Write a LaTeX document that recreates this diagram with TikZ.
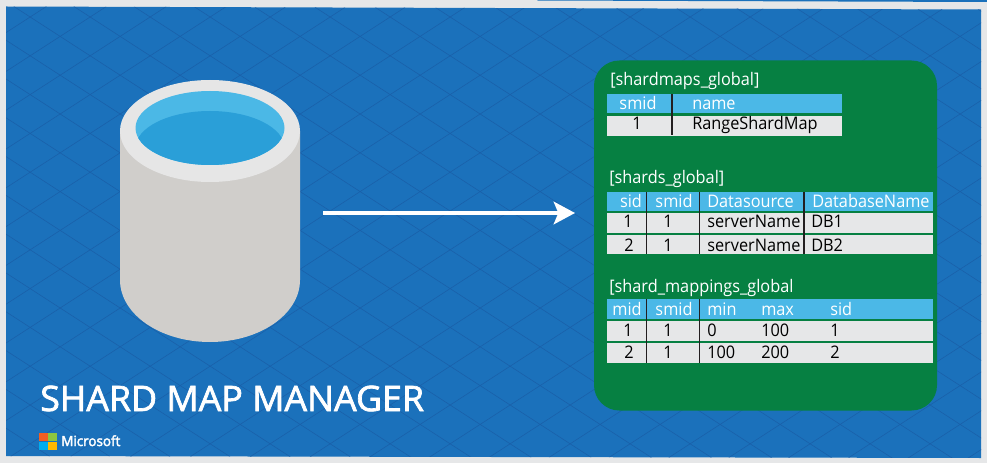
\documentclass[tikz,border=0pt]{standalone}
\usepackage{fontspec}
\setmainfont[FakeStretch=0.94]{Open Sans}
\newfontfamily\titlefont[FakeStretch=1.02,FakeBold=2]{Open Sans}
\newfontfamily\logofont[FakeStretch=0.96,FakeBold=2.5]{Open Sans}
\usetikzlibrary{arrows.meta}
\definecolor{pagegrey}{HTML}{E6E7E8}
\definecolor{bgblue}{HTML}{1B71BB}
\definecolor{gridblue}{HTML}{1A5FA8}
\definecolor{panelgreen}{HTML}{068042}
\definecolor{headblue}{HTML}{4BB8E7}
\definecolor{cellgrey}{HTML}{E6E7E8}
\definecolor{sepdark}{HTML}{231F20}
\definecolor{cylbody}{HTML}{D0CECB}
\definecolor{cylrim}{HTML}{E6E6E6}
\definecolor{waterlight}{HTML}{4BB8E6}
\definecolor{waterdark}{HTML}{2A9FD8}
\definecolor{logoorange}{HTML}{F25F22}
\definecolor{logogreen}{HTML}{8CC63F}
\definecolor{logoblue}{HTML}{00ADEF}
\definecolor{logoyellow}{HTML}{FFB900}
\tikzset{
  x=0.75pt,y=-0.75pt,
  txt/.style={inner sep=0pt,anchor=base west,font=\fontsize{13}{13}\selectfont},
  htxt/.style={txt,text=white},
  ctxt/.style={txt,text=black},
  htxtc/.style={htxt,anchor=base},
  ctxtc/.style={ctxt,anchor=base},
  sepline/.style={draw=sepdark,line width=1.25pt},
  gridline/.style={draw=gridblue,line width=0.4pt},
}
\begin{document}
\begin{tikzpicture}
\useasboundingbox (0,0) rectangle (987,463);
\fill[pagegrey] (0,0) rectangle (987,463);
\fill[bgblue] (537,0) -- (987,0) -- (987,2) -- (537,0.5) -- cycle;
% background
\begin{scope}
\clip (6,6.5) -- (981,9.5) -- (981,458) -- (6,456) -- cycle;
\fill[bgblue] (0,0) rectangle (987,463);
\foreach \k in {-20,...,12}{
  \draw[gridline] (0,{-2.5+38.8*\k}) -- (987,{-2.5+38.8*\k+987*0.6467});
}
\foreach \k in {0,...,30}{
  \draw[gridline] (0,{36.5+38.8*\k}) -- (987,{36.5+38.8*\k-987*0.6467});
}
\end{scope}
% cylinder
\fill[cylbody] (120,131) -- (120,280) arc[start angle=180,end angle=0,x radius=90,y radius=62] -- (300,131) -- cycle;
\fill[cylrim] (210,131) ellipse[x radius=90,y radius=51];
\fill[waterlight] (210,128) ellipse[x radius=74.5,y radius=37];
\begin{scope}
\clip (210,128) ellipse[x radius=74.5,y radius=37];
\fill[waterdark] (210,148) ellipse[x radius=74.5,y radius=37];
\end{scope}
% arrow
\coordinate (arrowstart) at (323,213);
\coordinate (arrowend) at (575,213);
\draw[white,line width=2.5pt,-{Stealth[length=16pt,width=17pt,inset=3.5pt]}] (arrowstart) -- (arrowend);
% panel
\fill[panelgreen,rounded corners=19pt] (594,60.5) rectangle (937,410.5);
% table 1
\node[htxt] (t1title) at (610,86) {[shardmaps\_global]};
\fill[headblue] (607,94) rectangle (842,113);
\fill[cellgrey] (607,116) rectangle (842,136);
\draw[sepline] (672,94) -- (672,135);
\node[htxtc] (t1h1) at (638,110) {smid};
\node[htxt] (t1h2) at (692,110) {name};
\node[ctxtc] (t1c1) at (637,130) {1};
\node[ctxt] (t1c2) at (692,130) {RangeShardMap};
% table 2
\node[htxt] (t2title) at (609,184) {[shards\_global]};
\fill[headblue] (607,192) rectangle (933,211);
\fill[cellgrey] (607,213) rectangle (933,233);
\fill[cellgrey] (607,235) rectangle (933,254);
\draw[sepline] (646.5,192) -- (646.5,254);
\draw[sepline] (699.5,192) -- (699.5,254);
\draw[sepline] (804,192) -- (804,254);
\node[htxtc] (t2h1) at (631,207.5) {sid};
\node[htxtc] (t2h2) at (674,207.5) {smid};
\node[htxt] (t2h3) at (707,207.5) {Datasource};
\node[htxt] (t2h4) at (812,207.5) {DatabaseName};
\node[ctxtc] (t2a1) at (628,228) {1};
\node[ctxtc] (t2a2) at (668,228) {1};
\node[ctxt] (t2a3) at (707,228) {serverName};
\node[ctxt] (t2a4) at (811,228) {DB1};
\node[ctxtc] (t2b1) at (629,251) {2};
\node[ctxtc] (t2b2) at (668,251) {1};
\node[ctxt] (t2b3) at (707,251) {serverName};
\node[ctxt] (t2b4) at (811,251) {DB2};
% table 3
\node[htxt] (t3title) at (609,292.5) {[shard\_mappings\_global};
\fill[headblue] (607,299) rectangle (933,319);
\fill[cellgrey] (607,321) rectangle (933,341);
\fill[cellgrey] (607,343) rectangle (933,363);
\draw[sepline] (646.5,299) -- (646.5,363);
\draw[sepline] (699.5,299) -- (699.5,363);
\node[htxtc] (t3h1) at (627,315) {mid};
\node[htxtc] (t3h2) at (674,315) {smid};
\node[htxt] (t3h3) at (707,315) {min};
\node[htxt] (t3h4) at (761,315) {max};
\node[htxt] (t3h5) at (830,315) {sid};
\node[ctxtc] (t3a1) at (628,336) {1};
\node[ctxtc] (t3a2) at (668,336) {1};
\node[ctxt] (t3a3) at (707,336) {0};
\node[ctxt] (t3a4) at (761,336) {100};
\node[ctxt] (t3a5) at (830,336) {1};
\node[ctxtc] (t3b1) at (629,358.5) {2};
\node[ctxtc] (t3b2) at (668,358.5) {1};
\node[ctxt] (t3b3) at (707,358.5) {100};
\node[ctxt] (t3b4) at (761,358.5) {200};
\node[ctxt] (t3b5) at (830,358.5) {2};
% title
\node[inner sep=0pt,anchor=base west,text=white,font=\titlefont\fontsize{26.3}{27}\selectfont] (maintitle) at (40,411) {SHARD MAP MANAGER};
% logo
\fill[logoorange] (39,433) rectangle (47.6,441.2);
\fill[logogreen] (48.4,433) rectangle (57,441.2);
\fill[logoblue] (39,442) rectangle (47.6,450);
\fill[logoyellow] (48.4,442) rectangle (57,450);
\node[inner sep=0pt,anchor=base west,text=white,font=\logofont\fontsize{10.5}{11}\selectfont] (mslogo) at (61,446) {Microsoft};
\end{tikzpicture}
\end{document}
